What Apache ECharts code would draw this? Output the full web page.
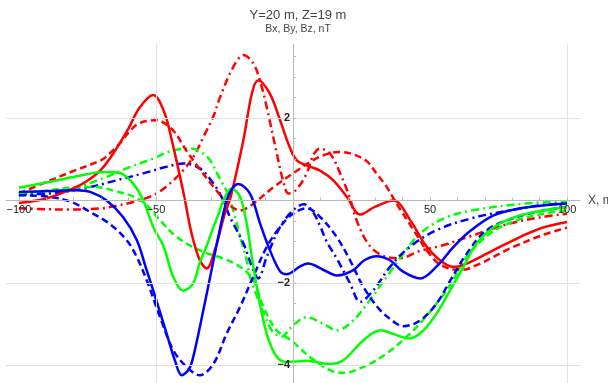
<!DOCTYPE html>
<html><head><meta charset="utf-8">
<script src="https://cdn.jsdelivr.net/npm/echarts@6/dist/echarts.min.js"></script>
<style>html,body{margin:0;padding:0;background:#fff}#c{width:608px;height:383px}</style>
</head><body><div id="c"></div>
<script>
// Field components along X (m): [x, value in nT]
const bxSolid = [[-100,-0.06],[-90,0.05],[-80,0.3],[-75,0.48],[-70,0.75],[-65,1.2],[-60,1.75],[-56,2.25],[-51,2.56],[-47,2.15],[-44,1.4],[-40,0.2],[-37,-0.8],[-34,-1.45],[-31.5,-1.65],[-28.5,-1.2],[-25,-0.35],[-22.7,0.1],[-18,1.5],[-15,2.6],[-12.7,2.92],[-8.5,2.6],[-4.7,1.95],[-1.7,1.38],[1.3,0.98],[6,0.83],[10,0.72],[14.7,0.49],[19.6,0.09],[24.5,-0.34],[30,-0.15],[36.6,0.0],[43,-0.5],[48,-1.05],[53.6,-1.45],[58.5,-1.61],[63.4,-1.53],[73,-1.21],[83,-0.88],[91,-0.66],[100,-0.52]];
const bxDashed = [[-100,0.17],[-90,0.45],[-80,0.72],[-70,0.98],[-66.8,1.15],[-63,1.4],[-60,1.65],[-56,1.88],[-50,1.95],[-44,1.72],[-39,1.22],[-34,0.76],[-28,0.25],[-23,-0.12],[-19.3,-0.24],[-16,-0.15],[-13,0.0],[-7,0.33],[0,0.66],[7.4,0.98],[12,1.12],[17,1.18],[22,1.12],[27,0.95],[30.5,0.65],[34,0.35],[38,-0.1],[44,-0.72],[48.8,-1.21],[53.6,-1.55],[61,-1.69],[67,-1.57],[79,-1.17],[91,-0.84],[100,-0.66]];
const bxDashDot = [[-100,-0.19],[-90,-0.21],[-82,-0.22],[-70,-0.19],[-64,-0.12],[-58,-0.03],[-51,0.13],[-46,0.35],[-40,0.74],[-36,1.1],[-32.7,1.54],[-29,2.05],[-26.6,2.51],[-21.8,3.24],[-18.1,3.53],[-14.5,3.33],[-12,2.9],[-9.6,2.27],[-5.9,1.14],[-3.5,0.45],[-1.7,0.17],[1,0.25],[5,0.66],[7.4,1.1],[9.9,1.26],[13.5,1.14],[17.2,0.66],[20.8,0.05],[23,-0.45],[28,-1.1],[34,-1.37],[39,-1.4],[46,-1.23],[55,-1.08],[65,-0.86],[79,-0.56],[91,-0.4],[100,-0.32]];
const bySolid = [[-100,0.31],[-89,0.45],[-78,0.6],[-69,0.69],[-63,0.66],[-58.3,0.41],[-54.6,0],[-51,-0.64],[-47.3,-1.1],[-43.7,-1.85],[-40,-2.19],[-36.4,-2.01],[-34,-1.5],[-31.5,-1.1],[-29,-0.64],[-27,-0.3],[-25.4,0],[-22.4,0.29],[-19.3,0.09],[-16.9,-0.56],[-15,-1.37],[-13.2,-2.1],[-9.6,-3.23],[-5.9,-3.8],[-2.3,-3.92],[2.6,-3.9],[5,-3.89],[13.5,-3.97],[18.4,-3.88],[25.7,-3.39],[32,-3.15],[37,-3.25],[42.5,-3.35],[47.6,-3.15],[52.4,-2.74],[57.3,-2.18],[62.2,-1.61],[67,-1.04],[74.3,-0.6],[82.8,-0.36],[91.4,-0.24],[100,-0.16]];
const byDashed = [[-100,0.18],[-90,0.24],[-80,0.32],[-72,0.33],[-65,0.23],[-58,0.09],[-53.4,-0.11],[-48.5,-0.48],[-42.5,-0.88],[-34,-1.21],[-25.4,-1.41],[-19.3,-1.61],[-14.5,-1.93],[-10.8,-2.58],[-6,-3.15],[-1,-3.38],[6.2,-3.8],[13.5,-4.12],[18.4,-4.18],[25.7,-4.04],[34.2,-3.71],[42.7,-3.23],[50,-2.7],[57.3,-2.05],[63.4,-1.37],[71.9,-0.8],[81.6,-0.48],[91.4,-0.32],[100,-0.24]];
const byDashDot = [[-100,0.12],[-90,0.2],[-80,0.3],[-70,0.52],[-60,0.8],[-51,1.02],[-43.7,1.22],[-37,1.26],[-33,1.15],[-30.3,0.98],[-26.6,0.52],[-24,0.2],[-21.8,-0.24],[-19.3,-0.88],[-16.9,-1.45],[-15.7,-1.85],[-13,-2.35],[-10,-2.85],[-7.2,-3.2],[-4,-3.3],[-1,-3.1],[5,-2.83],[11,-2.99],[16,-3.15],[22,-2.91],[28,-2.42],[34.2,-1.85],[40.3,-1.29],[46.4,-0.8],[54.9,-0.44],[64.6,-0.25],[85,-0.07],[100,-0.03]];
const bzSolid = [[-100,0.21],[-89,0.23],[-79,0.25],[-74,0.21],[-68,0],[-62,-0.4],[-57,-0.96],[-53.4,-1.69],[-51,-2.18],[-46.1,-3.23],[-43,-3.9],[-40.6,-4.24],[-38,-4.1],[-36.4,-3.8],[-32.7,-2.66],[-29,-1.45],[-27,-0.8],[-25,-0.2],[-23,0.2],[-20,0.4],[-15.7,0.17],[-12,-0.56],[-8.4,-1.21],[-4.7,-1.72],[-2.3,-1.79],[2.6,-1.6],[5.5,-1.53],[11,-1.68],[16,-1.82],[22,-1.69],[26,-1.45],[30.5,-1.35],[35.4,-1.45],[40,-1.72],[46.4,-1.89],[52.4,-1.6],[58.5,-1.13],[64.6,-0.74],[73.2,-0.36],[82.8,-0.19],[91,-0.12],[100,-0.07]];
const bzDashed = [[-100,0.13],[-89,0.09],[-81,-0.03],[-74,-0.28],[-67,-0.56],[-60.7,-0.96],[-57,-1.37],[-53.4,-1.93],[-48.5,-2.83],[-43.7,-3.63],[-38.8,-4.04],[-34,-4.24],[-29,-3.96],[-24.2,-3.23],[-19.3,-2.58],[-14.5,-1.85],[-9.6,-1.13],[-4.7,-0.64],[0,-0.32],[5,-0.19],[9.9,-0.4],[15.9,-0.88],[20.8,-1.45],[25.7,-2.1],[31.8,-2.66],[37.8,-2.99],[40.3,-3.05],[46.4,-2.91],[52.4,-2.5],[57.3,-1.95],[63.4,-1.29],[70.7,-0.72],[81.6,-0.4],[91.4,-0.24],[100,-0.16]];
const bzDashDot = [[-100,0.15],[-88.7,0.17],[-76.5,0.29],[-64.4,0.49],[-54.6,0.66],[-46.1,0.82],[-40,0.9],[-34,0.78],[-29,0.41],[-25.4,0.0],[-23,-0.4],[-18.1,-1.04],[-14.5,-1.69],[-12.7,-1.89],[-9.6,-1.37],[-4.7,-0.64],[0,-0.24],[4,-0.09],[7,-0.25],[9.9,-0.62],[12.3,-1.0],[15.9,-1.4],[20.8,-2.01],[24.5,-2.46],[29.3,-2.18],[35.4,-1.61],[42.7,-1.12],[52.4,-0.72],[64.6,-0.44],[79,-0.24],[91,-0.11],[100,-0.07]];

const xTickLabels = [-100, -50, 50, 100];
const yTickLabels = [-4, -2, 2];
const xMinorTicks = [-100,-90,-80,-70,-60,-50,-40,-30,-20,-10,10,20,30,40,50,60,70,80,90,100];
const yMinorTicks = [-4,-3.5,-3,-2.5,-2,-1.5,-1,-0.5,0.5,1,1.5,2,2.5,3,3.5];
const xGrid = [-50, 100];
const yGrid = [2, -2, -4];
const xRange = [-104.7, 104.7];
const yRange = [-4.43, 3.8];

const RED = '#ff0000', GREEN = '#00ff00', BLUE = '#0000ff';
const DASH = [7, 4], DASHDOT = [8, 4, 2, 4];
function mk(data, color, dash, z) {
  return { type: 'line', data: data, smooth: 0.35, showSymbol: false, symbol: 'none', z: z,
    lineStyle: { color: color, width: 2.5, type: dash || 'solid' }, silent: true };
}
const minus = v => String(v).replace('-', '\u2212');

const chart = echarts.init(document.getElementById('c'), null, { renderer: 'canvas' });
chart.setOption({
  animation: false,
  backgroundColor: '#fff',
  title: [{
    text: 'Y=20 m, Z=19 m', subtext: 'Bx, By, Bz, nT',
    left: 293, top: 4, textAlign: 'center', itemGap: 2,
    textStyle: { fontSize: 13, fontWeight: 'normal', color: '#444', fontFamily: 'Liberation Sans' },
    subtextStyle: { fontSize: 10.5, color: '#444', fontFamily: 'Liberation Sans' }
  }],
  grid: { left: 6, right: 28, top: 44, bottom: 0, containLabel: false, outerBoundsMode: 'none' },
  xAxis: {
    type: 'value', min: xRange[0], max: xRange[1], position: 'bottom', z: 10,
    name: 'X, m', nameLocation: 'end', nameGap: 8,
    nameTextStyle: { fontSize: 12, color: '#444', fontFamily: 'Liberation Sans', verticalAlign: 'middle' },
    axisLine: { onZero: false, lineStyle: { color: '#b8b8b8', width: 1 } },
    axisTick: { show: true, inside: true, length: 3, customValues: xMinorTicks, lineStyle: { color: '#b8b8b8' } },
    axisLabel: { show: true, customValues: xTickLabels, margin: 4, fontSize: 11, color: '#222', fontFamily: 'Liberation Sans', formatter: minus },
    splitLine: { show: false }
  },
  yAxis: {
    type: 'value', min: yRange[0], max: yRange[1], position: 'left', z: 10,
    axisLine: { onZero: false, lineStyle: { color: '#b8b8b8', width: 1 } },
    axisTick: { show: true, inside: true, length: 3, customValues: yMinorTicks, lineStyle: { color: '#b8b8b8' } },
    axisLabel: { show: true, customValues: yTickLabels, margin: 3, fontSize: 11, fontWeight: 'bold', color: '#222', fontFamily: 'Liberation Sans', formatter: minus },
    splitLine: { show: false }
  },
  series: [
    { type: 'line', data: [[0, 0]], showSymbol: false, lineStyle: { opacity: 0 }, z: 0, silent: true,
      markLine: { silent: true, symbol: 'none', label: { show: false },
        lineStyle: { color: '#e2e2e2', width: 1, type: 'solid' },
        data: xGrid.map(v => ({ xAxis: v })).concat(yGrid.map(v => ({ yAxis: v }))) } },
    mk(bxDashDot, RED, DASHDOT, 2),
    mk(byDashDot, GREEN, DASHDOT, 2),
    mk(bzDashDot, BLUE, DASHDOT, 2),
    mk(bxDashed, RED, DASH, 3),
    mk(byDashed, GREEN, DASH, 3),
    mk(bzDashed, BLUE, DASH, 3),
    mk(bxSolid, RED, null, 4),
    mk(bySolid, GREEN, null, 4),
    mk(bzSolid, BLUE, null, 4)
  ]
});
// Make the axes cross at the origin (Mathematica style): shift them from the grid edges to the zero lines
const zero = chart.convertToPixel({ gridIndex: 0 }, [0, 0]);
const corner = chart.convertToPixel({ gridIndex: 0 }, [xRange[0], yRange[0]]);
chart.setOption({
  xAxis: { offset: -(corner[1] - zero[1]) },
  yAxis: { offset: -(zero[0] - corner[0]) }
});
</script></body></html>
